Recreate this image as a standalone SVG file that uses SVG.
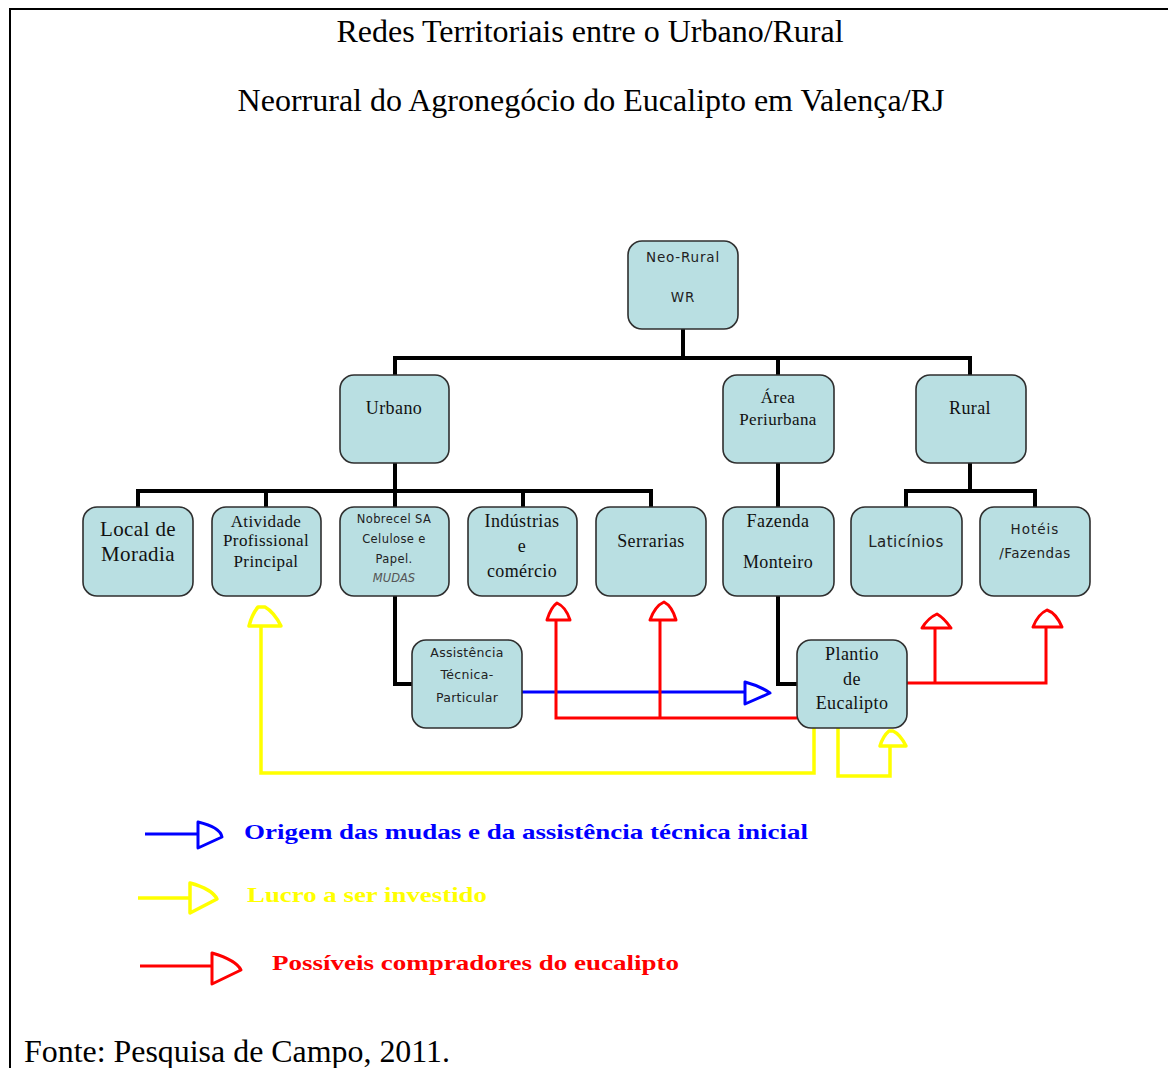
<svg xmlns="http://www.w3.org/2000/svg" width="1168" height="1068" viewBox="0 0 1168 1068">
  <style>
    .box { fill: #b9dfe2; stroke: #2f2f2f; stroke-width: 1.6; }
    .serif { font-family: "Liberation Serif", "Times New Roman", serif; fill: #111; letter-spacing: 0.4px; }
    .sans { font-family: "DejaVu Sans", Verdana, sans-serif; fill: #222; }
    .tree { fill: none; stroke: #000; stroke-width: 4; stroke-linejoin: miter; }
    .blue { fill: none; stroke: #0000ff; stroke-width: 3; }
    .yellow { fill: none; stroke: #ffff00; stroke-width: 3.5; }
    .red { fill: none; stroke: #ff0000; stroke-width: 3; }
    .head { fill: #fff; stroke-linejoin: round; }
    .legend { font-family: "Liberation Serif", "Times New Roman", serif; font-weight: bold; font-size: 21px; }
    .title { font-family: "Liberation Serif", "Times New Roman", serif; font-size: 32px; fill: #000; }
  </style>

  <!-- page frame (top and left rules) -->
  <path d="M10 1068 V9 H1168" fill="none" stroke="#000" stroke-width="2"/>

  <!-- headings -->
  <text class="title" x="590" y="42" text-anchor="middle">Redes Territoriais entre o Urbano/Rural</text>
  <text class="title" x="591" y="111" text-anchor="middle">Neorrural do Agronegócio do Eucalipto em Valença/RJ</text>

  <!-- connectors -->
  <g id="connectors">
    <!-- hierarchy -->
    <path class="tree" d="M683 329 V358 M395 358 H970 M395 356 V375 M778 356 V375 M970 356 V375"/>
    <path class="tree" d="M395 463 V491 M138 491 H651 M138 489 V507 M266 489 V507 M395 489 V507 M523 489 V507 M651 489 V507"/>
    <path class="tree" d="M778 463 V507"/>
    <path class="tree" d="M970 463 V491 M906 491 H1035 M906 489 V507 M1035 489 V507"/>
    <path class="tree" d="M395 596 V684 H412"/>
    <path class="tree" d="M778 596 V684 H797"/>

    <!-- seedlings and initial technical assistance -->
    <path class="blue" d="M522 692 H745"/>
    <path class="blue head" d="M745 682 V704 L770 693 Q760 686 745 682 Z"/>

    <!-- possible eucalyptus buyers -->
    <path class="red" d="M797 718 H556 V620 M660 718 V620"/>
    <path class="red head" d="M547 620 H570 Q566 607 557 603 Q551 607 547 620 Z"/>
    <path class="red head" d="M650 620 H676 Q672 606 664 602 Q655 606 650 620 Z"/>
    <path class="red" d="M907 683 H1046 V627 M935 683 V628"/>
    <path class="red head" d="M922 628 H951 Q944 618 937 614 Q928 618 922 628 Z"/>
    <path class="red head" d="M1033 627 H1062 Q1056 613 1047 610 Q1038 614 1033 627 Z"/>

    <!-- profit to be invested -->
    <path class="yellow" d="M814 728 V773 H261 V626"/>
    <path class="yellow head" d="M249 626 H281 Q274 612 265 607 H258 Q252 614 249 626 Z"/>
    <path class="yellow" d="M838 728 V776 H890 V746"/>
    <path class="yellow head" d="M880 746 H906 Q900 734 893 731 H889 Q883 736 880 746 Z"/>
  </g>

  <!-- nodes -->
  <g id="neo-rural">
    <rect class="box" x="628" y="241" width="110" height="88" rx="14"/>
    <text class="sans" x="683" y="262" font-size="13.5" text-anchor="middle" letter-spacing="0.8">Neo-Rural</text>
    <text class="sans" x="683" y="302" font-size="13.5" text-anchor="middle" letter-spacing="0.8">WR</text>
  </g>
  <g id="urbano">
    <rect class="box" x="340" y="375" width="109" height="88" rx="14"/>
    <text class="serif" x="394" y="414" font-size="18" text-anchor="middle">Urbano</text>
  </g>
  <g id="area-periurbana">
    <rect class="box" x="723" y="375" width="111" height="88" rx="14"/>
    <text class="serif" x="778" y="403" font-size="17" text-anchor="middle">Área</text>
    <text class="serif" x="778" y="425" font-size="17" text-anchor="middle">Periurbana</text>
  </g>
  <g id="rural">
    <rect class="box" x="916" y="375" width="110" height="88" rx="14"/>
    <text class="serif" x="970" y="414" font-size="18" text-anchor="middle">Rural</text>
  </g>

  <g id="local-moradia">
    <rect class="box" x="83" y="507" width="110" height="89" rx="14"/>
    <text class="serif" x="138" y="536" font-size="21" text-anchor="middle" letter-spacing="1">Local de</text>
    <text class="serif" x="138" y="561" font-size="21" text-anchor="middle" letter-spacing="1">Moradia</text>
  </g>
  <g id="atividade">
    <rect class="box" x="212" y="507" width="109" height="89" rx="14"/>
    <text class="serif" x="266" y="527" font-size="17" text-anchor="middle">Atividade</text>
    <text class="serif" x="266" y="546" font-size="17" text-anchor="middle">Profissional</text>
    <text class="serif" x="266" y="567" font-size="17" text-anchor="middle">Principal</text>
  </g>
  <g id="nobrecel">
    <rect class="box" x="340" y="507" width="109" height="89" rx="14"/>
    <text class="sans" x="394" y="523" font-size="11.5" text-anchor="middle" letter-spacing="0.4">Nobrecel SA</text>
    <text class="sans" x="394" y="543" font-size="11.5" text-anchor="middle" letter-spacing="0.4">Celulose e</text>
    <text class="sans" x="394" y="563" font-size="11.5" text-anchor="middle" letter-spacing="0.4">Papel.</text>
    <text class="sans" x="394" y="582" font-size="11.5" text-anchor="middle" font-style="italic" style="fill:#555">MUDAS</text>
  </g>
  <g id="industrias">
    <rect class="box" x="468" y="507" width="109" height="89" rx="14"/>
    <text class="serif" x="522" y="527" font-size="18" text-anchor="middle">Indústrias</text>
    <text class="serif" x="522" y="552" font-size="18" text-anchor="middle">e</text>
    <text class="serif" x="522" y="577" font-size="18" text-anchor="middle">comércio</text>
  </g>
  <g id="serrarias">
    <rect class="box" x="596" y="507" width="110" height="89" rx="14"/>
    <text class="serif" x="651" y="547" font-size="18" text-anchor="middle">Serrarias</text>
  </g>
  <g id="fazenda-monteiro">
    <rect class="box" x="723" y="507" width="111" height="89" rx="14"/>
    <text class="serif" x="778" y="527" font-size="18" text-anchor="middle">Fazenda</text>
    <text class="serif" x="778" y="568" font-size="18" text-anchor="middle">Monteiro</text>
  </g>
  <g id="laticinios">
    <rect class="box" x="851" y="507" width="111" height="89" rx="14"/>
    <text class="sans" x="906" y="547" font-size="15" text-anchor="middle" letter-spacing="0.5">Laticínios</text>
  </g>
  <g id="hoteis-fazendas">
    <rect class="box" x="980" y="507" width="110" height="89" rx="14"/>
    <text class="sans" x="1035" y="534" font-size="13.5" text-anchor="middle" letter-spacing="1">Hotéis</text>
    <text class="sans" x="1035" y="558" font-size="13.5" text-anchor="middle" letter-spacing="0.5">/Fazendas</text>
  </g>
  <g id="assistencia">
    <rect class="box" x="412" y="640" width="110" height="88" rx="14"/>
    <text class="sans" x="467" y="657" font-size="12.5" text-anchor="middle" letter-spacing="0.3">Assistência</text>
    <text class="sans" x="467" y="679" font-size="12.5" text-anchor="middle" letter-spacing="0.3">Técnica-</text>
    <text class="sans" x="467" y="702" font-size="12.5" text-anchor="middle" letter-spacing="0.3">Particular</text>
  </g>
  <g id="plantio">
    <rect class="box" x="797" y="640" width="110" height="88" rx="14"/>
    <text class="serif" x="852" y="660" font-size="18" text-anchor="middle" letter-spacing="1">Plantio</text>
    <text class="serif" x="852" y="685" font-size="18" text-anchor="middle">de</text>
    <text class="serif" x="852" y="709" font-size="18" text-anchor="middle" letter-spacing="0.5">Eucalipto</text>
  </g>

  <!-- legend -->
  <g id="legend">
    <path class="blue" d="M145 834 H198"/>
    <path class="blue head" d="M198 822 V848 L222 837 Q220 827 198 822 Z"/>
    <text class="legend" x="244" y="839" fill="#0000ff" textLength="564" lengthAdjust="spacingAndGlyphs">Origem das mudas e da assistência técnica inicial</text>

    <path class="yellow" d="M138 898 H190"/>
    <path class="yellow head" d="M190 883 V913 L217 899 Q212 889 190 883 Z"/>
    <text class="legend" x="247" y="902" fill="#ffff00" textLength="240" lengthAdjust="spacingAndGlyphs">Lucro a ser investido</text>

    <path class="red" d="M140 966 H212"/>
    <path class="red head" d="M212 953 V984 L241 970 Q236 960 212 953 Z"/>
    <text class="legend" x="272" y="970" fill="#ff0000" textLength="407" lengthAdjust="spacingAndGlyphs">Possíveis compradores do eucalipto</text>
  </g>

  <!-- source -->
  <text class="title" x="24" y="1062" font-size="31" textLength="426" lengthAdjust="spacingAndGlyphs">Fonte: Pesquisa de Campo, 2011.</text>
</svg>
